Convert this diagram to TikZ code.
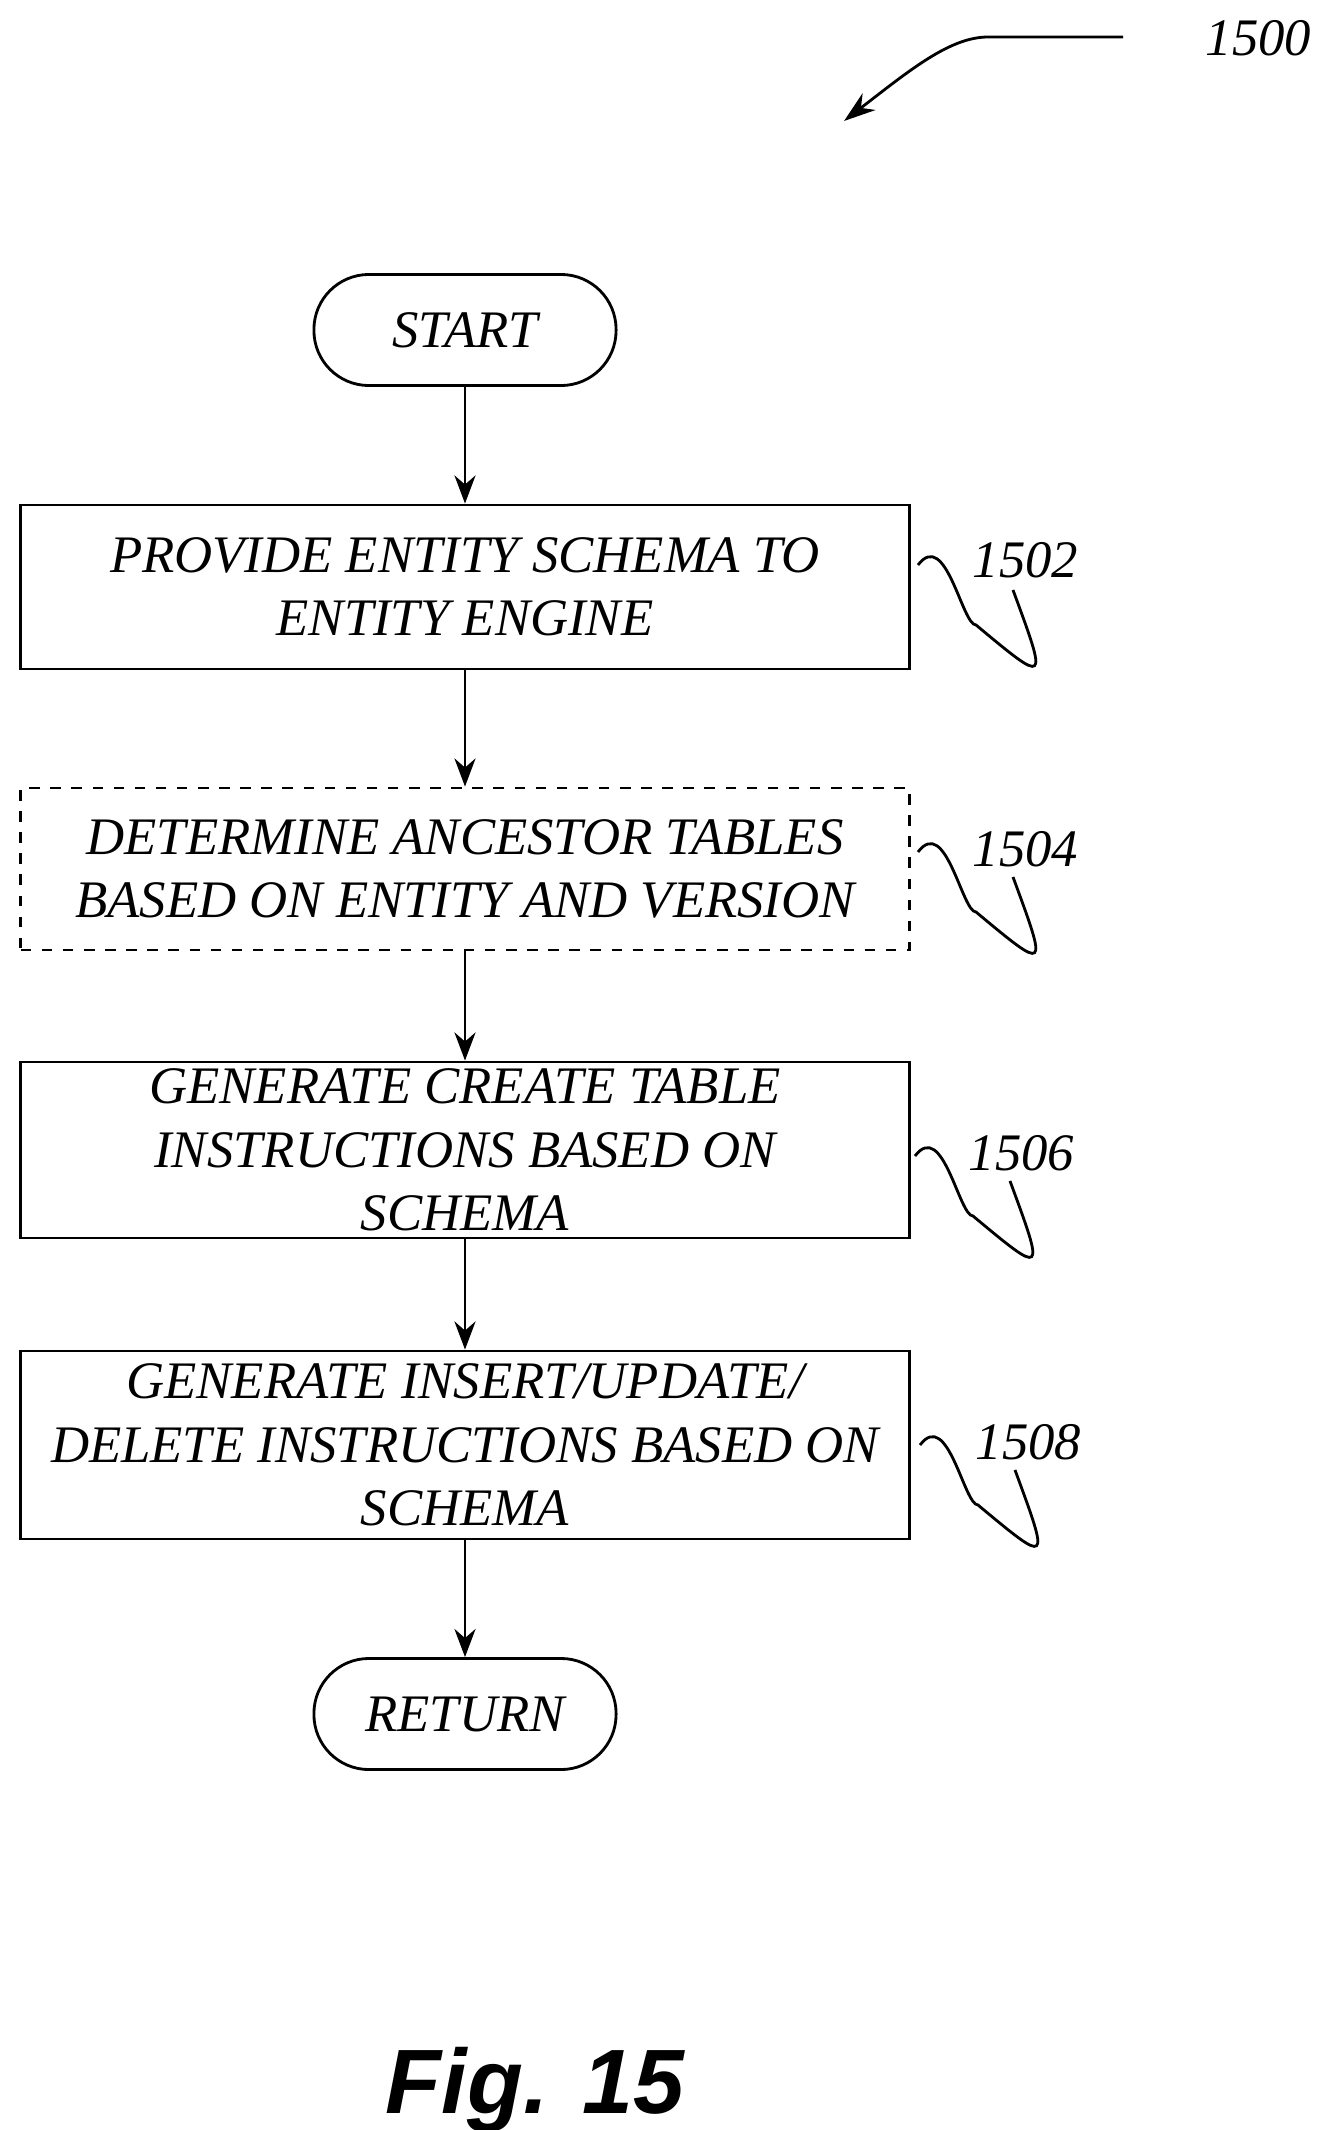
\documentclass[tikz,border=0pt]{standalone}
\usepackage{fontspec}
\setmainfont{Liberation Serif}
\setsansfont{Liberation Sans}
\usetikzlibrary{arrows.meta}
\tikzset{
  stepbox/.style={draw, thick, minimum width=8.88cm, align=center, inner sep=2pt,
    font=\fontsize{15}{18}\selectfont\itshape},
  termbox/.style={draw, thick, rounded corners=0.55cm, minimum width=3.02cm, minimum height=1.11cm,
    font=\fontsize{15}{18}\selectfont\itshape},
  flow/.style={thick, -{Stealth[length=8pt,width=6pt]}},
  reflabel/.style={font=\fontsize{15}{18}\selectfont\itshape, anchor=west, inner sep=0pt}
}
\newcommand{\squig}[1]{% start point of the wave
  \draw[thick] (#1) .. controls +(28,-37) and +(-14,0) .. +(58,60) .. controls +(72,60) .. +(95,25);}
\begin{document}
\begin{tikzpicture}[x=0.01cm,y=-0.01cm]
\useasboundingbox (0,0) rectangle (1318,2130);
\node[termbox] (start) at (465,330) {START};
\node[stepbox, minimum height=1.64cm] (s1502) at (465,587) {PROVIDE ENTITY SCHEMA TO\\ENTITY ENGINE};
\node[stepbox, minimum height=1.62cm, dashed] (s1504) at (465,869) {DETERMINE ANCESTOR TABLES\\BASED ON ENTITY AND VERSION};
\node[stepbox, minimum height=1.64cm] (s1506) at (465,1150) {GENERATE CREATE TABLE\\INSTRUCTIONS BASED ON\\SCHEMA};
\node[stepbox, minimum height=1.88cm] (s1508) at (465,1445) {GENERATE INSERT/UPDATE/\\DELETE INSTRUCTIONS BASED ON\\SCHEMA};
\node[termbox] (ret) at (465,1714) {RETURN};
\draw[flow] (start) -- (s1502);
\draw[flow] (s1502) -- (s1504);
\draw[flow] (s1504) -- (s1506);
\draw[flow] (s1506) -- (s1508);
\draw[flow] (s1508) -- (ret);
% reference numerals
\node[reflabel] (l1502) at (972,560) {1502};
\node[reflabel] (l1504) at (972,849) {1504};
\node[reflabel] (l1506) at (968,1153) {1506};
\node[reflabel] (l1508) at (975,1442) {1508};
\coordinate (w1502) at (918,565);
\coordinate (w1504) at (918,852);
\coordinate (w1506) at (915,1156);
\coordinate (w1508) at (920,1445);
\squig{w1502}
\squig{w1504}
\squig{w1506}
\squig{w1508}
\node[reflabel] (l1500) at (1205,38) {1500};
\coordinate (a1500) at (1123,37);
\coordinate (b1500) at (844,121);
\draw[thick, -{Stealth[length=9pt,width=6pt]}] (a1500) -- (988,37) .. controls (950,37) and (910,70) .. (b1500);
\node[font=\sffamily\bfseries\itshape\fontsize{26}{30}\selectfont] (fig) at (535,2090) {Fig. 15};
\end{tikzpicture}
\end{document}
